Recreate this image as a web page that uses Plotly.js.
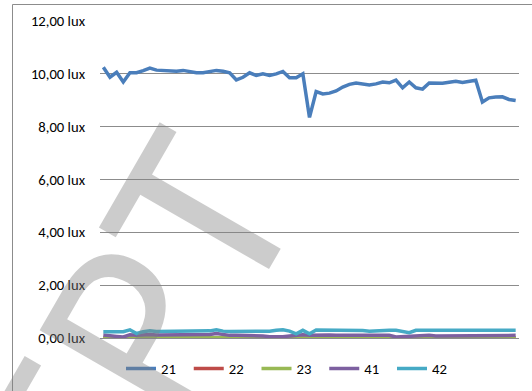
<!DOCTYPE html>
<html>
<head>
<meta charset="utf-8">
<script src="https://cdn.plot.ly/plotly-3.0.1.min.js"></script>
<style>
  html, body { margin: 0; padding: 0; background: #ffffff; }
  #chart { width: 532px; height: 391px; }
</style>
</head>
<body>
<div id="chart"></div>
<script>
// Illuminance per measuring point (lux), one value per reading
const seriesNames = ['21', '22', '23', '41', '42'];
const seriesColors = ['#4A7EBB', '#BE4B48', '#98B954', '#7D60A0', '#46AAC5'];

const lux21 = [10.25, 9.87, 10.06, 9.69, 10.04, 10.04, 10.12, 10.22, 10.14, 10.12,
               10.12, 10.10, 10.13, 10.07, 10.04, 10.04, 10.08, 10.13, 10.10, 10.04,
               9.77, 9.87, 10.04, 9.94, 10.00, 9.94, 10.00, 10.09, 9.85, 9.85,
               10.00, 8.35, 9.33, 9.24, 9.27, 9.35, 9.50, 9.60, 9.65, 9.60,
               9.58, 9.62, 9.69, 9.66, 9.76, 9.47, 9.69, 9.47, 9.42, 9.65,
               9.64, 9.64, 9.68, 9.72, 9.67, 9.72, 9.76, 8.93, 9.09, 9.12,
               9.13, 9.03, 8.99];
const lux22 = [0.00, 0.00, 0.00, 0.00, 0.00, 0.00, 0.00, 0.00, 0.00, 0.00,
               0.00, 0.00, 0.00, 0.00, 0.00, 0.00, 0.00, 0.00, 0.00, 0.00,
               0.00, 0.00, 0.00, 0.00, 0.00, 0.00, 0.00, 0.00, 0.00, 0.00,
               0.00, 0.00, 0.00, 0.00, 0.00, 0.00, 0.00, 0.00, 0.00, 0.00,
               0.00, 0.00, 0.00, 0.00, 0.00, 0.00, 0.00, 0.00, 0.00, 0.00,
               0.00, 0.00, 0.00, 0.00, 0.00, 0.00, 0.00, 0.00, 0.00, 0.00,
               0.00, 0.00, 0.00];
const lux23 = [0.01, 0.01, 0.01, 0.01, 0.01, 0.01, 0.01, 0.01, 0.01, 0.01,
               0.01, 0.01, 0.01, 0.01, 0.01, 0.01, 0.01, 0.01, 0.01, 0.01,
               0.01, 0.01, 0.01, 0.01, 0.01, 0.01, 0.01, 0.01, 0.01, 0.01,
               0.01, 0.01, 0.01, 0.01, 0.01, 0.01, 0.01, 0.01, 0.01, 0.01,
               0.01, 0.01, 0.01, 0.01, 0.01, 0.01, 0.01, 0.01, 0.01, 0.01,
               0.01, 0.01, 0.01, 0.01, 0.01, 0.01, 0.01, 0.01, 0.01, 0.01,
               0.01, 0.01, 0.01];
const lux41 = [0.11, 0.10, 0.06, 0.04, 0.12, 0.10, 0.12, 0.13, 0.11, 0.11,
               0.11, 0.11, 0.11, 0.11, 0.11, 0.11, 0.13, 0.17, 0.12, 0.10,
               0.10, 0.10, 0.10, 0.10, 0.08, 0.05, 0.04, 0.05, 0.08, 0.10,
               0.12, 0.10, 0.11, 0.11, 0.11, 0.10, 0.10, 0.11, 0.11, 0.10,
               0.10, 0.11, 0.11, 0.10, 0.04, 0.05, 0.09, 0.10, 0.10, 0.10,
               0.08, 0.08, 0.09, 0.10, 0.10, 0.11, 0.11, 0.10, 0.10, 0.10,
               0.10, 0.10, 0.10];
const lux42 = [0.24, 0.24, 0.22, 0.24, 0.31, 0.17, 0.24, 0.27, 0.25, 0.25,
               0.25, 0.25, 0.25, 0.25, 0.25, 0.25, 0.27, 0.31, 0.26, 0.25,
               0.25, 0.25, 0.25, 0.25, 0.25, 0.26, 0.29, 0.31, 0.26, 0.16,
               0.29, 0.16, 0.30, 0.30, 0.30, 0.28, 0.27, 0.29, 0.29, 0.28,
               0.26, 0.28, 0.29, 0.29, 0.29, 0.26, 0.20, 0.29, 0.29, 0.29,
               0.27, 0.29, 0.29, 0.28, 0.26, 0.26, 0.27, 0.26, 0.26, 0.26,
               0.29, 0.29, 0.29];

const yTicks = [0, 2, 4, 6, 8, 10, 12];
const yTickLabels = ['0,00 lux', '2,00 lux', '4,00 lux', '6,00 lux', '8,00 lux', '10,00 lux', '12,00 lux'];
const watermarkText = 'CONCEPT';

// Use Carlito (Calibri metrics) when present, otherwise Liberation Sans
function fontAvailable(name) {
  const ctx = document.createElement('canvas').getContext('2d');
  const probe = 'CONCEPT 12,00 lux';
  ctx.font = '72px monospace';
  const base = ctx.measureText(probe).width;
  ctx.font = '72px "' + name + '", monospace';
  return ctx.measureText(probe).width !== base;
}
const calibriLike = fontAvailable('Carlito');
const FAMILY = calibriLike ? 'Carlito, Liberation Sans, sans-serif' : 'Liberation Sans, Arial, sans-serif';
const LABEL_SIZE = calibriLike ? 14.67 : 13;

const allSeries = [lux21, lux22, lux23, lux41, lux42];

const traces = allSeries.map((vals, i) => ({
  type: 'scatter',
  mode: 'lines',
  name: seriesNames[i],
  y: vals,
  line: { color: seriesColors[i], width: 3.5 },
  hoverinfo: 'skip'
}));

// Plot area geometry (pixels)
const W = 532, H = 391;
const M = { l: 100, r: 13, t: 21, b: 53, autoexpand: false };
const PW = W - M.l - M.r;
const PH = H - M.t - M.b;
const px2x = px => (px - M.l) / PW;
const py2y = py => (H - M.b - py) / PH;

// Watermark placement: centre of the final glyph, text angle, glyph metrics
const WM_ANGLE = -60;
const wmSize = calibriLike ? 262 : 226;
const wmLastOffset = calibriLike ? 1.6895 : 2.139;   // em from text centre to last glyph centre
const wmCapShift = calibriLike ? 0.028 : -0.008;     // em from box centre to cap centre
const lastGlyph = { x: 205, y: 216 };
const rad = WM_ANGLE * Math.PI / 180;
const ux = Math.cos(rad), uy = Math.sin(rad);         // reading direction
const dx = -uy, dy = ux;                              // downward direction of the glyphs
const wmCx = lastGlyph.x - wmLastOffset * wmSize * ux - wmCapShift * wmSize * dx;
const wmCy = lastGlyph.y - wmLastOffset * wmSize * uy - wmCapShift * wmSize * dy;

const nPts = lux21.length;

const layout = {
  width: W,
  height: H,
  margin: M,
  paper_bgcolor: '#ffffff',
  plot_bgcolor: '#ffffff',
  font: { family: FAMILY, size: LABEL_SIZE, color: '#000000' },
  showlegend: true,
  xaxis: {
    range: [-0.5, nPts - 0.5],
    showgrid: false,
    zeroline: false,
    showticklabels: false,
    ticks: '',
    showline: true,
    linecolor: '#8c8c8c',
    linewidth: 1,
    fixedrange: true
  },
  yaxis: {
    range: [0, 12],
    tickmode: 'array',
    tickvals: yTicks,
    ticktext: yTickLabels,
    ticks: '',
    ticklabelstandoff: 14,
    showgrid: true,
    gridcolor: '#8c8c8c',
    gridwidth: 1,
    zeroline: false,
    showline: false,
    tickfont: { family: FAMILY, size: LABEL_SIZE, color: '#000000' },
    fixedrange: true
  },
  legend: {
    orientation: 'h',
    x: px2x(121),
    xanchor: 'left',
    y: py2y(369),
    yanchor: 'middle',
    entrywidth: 22.75,
    font: { family: FAMILY, size: LABEL_SIZE, color: '#000000' },
    bgcolor: 'rgba(0,0,0,0)',
    traceorder: 'normal'
  },
  shapes: [{
    // chart frame
    type: 'rect',
    xref: 'paper', yref: 'paper',
    x0: px2x(12.5), x1: px2x(560),
    y0: py2y(420), y1: py2y(4.5),
    line: { color: '#8c8c8c', width: 1 },
    fillcolor: 'rgba(0,0,0,0)',
    layer: 'below'
  }],
  annotations: [{
    // diagonal document watermark
    text: watermarkText,
    xref: 'paper', yref: 'paper',
    x: px2x(wmCx), y: py2y(wmCy),
    xanchor: 'center', yanchor: 'middle',
    showarrow: false,
    textangle: WM_ANGLE,
    font: { family: FAMILY, size: wmSize, color: 'rgba(128,128,128,0.4)' }
  }]
};

Plotly.newPlot('chart', traces, layout, { staticPlot: true, displayModeBar: false });
</script>
</body>
</html>
